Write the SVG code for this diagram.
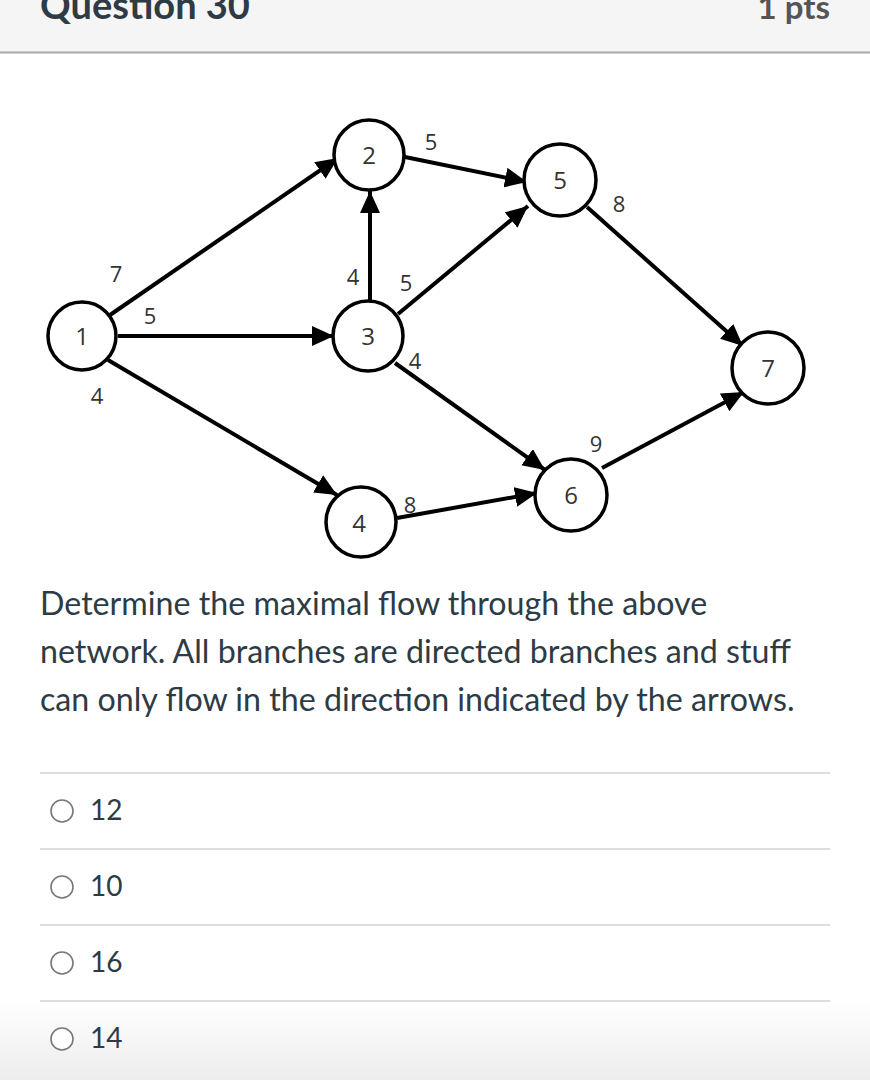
<svg xmlns="http://www.w3.org/2000/svg" width="870" height="1080" viewBox="0 0 870 1080">
<style>
.hdr{font-family:Lato,"Liberation Sans",sans-serif;}
.node circle{fill:#fff;stroke:#000;stroke-width:3.5;}
.node text{font-family:"Open Sans","Liberation Sans",sans-serif;font-size:24px;fill:#333;text-anchor:middle;}
.lbl{font-family:"Open Sans","Liberation Sans",sans-serif;font-size:22px;fill:#333;text-anchor:middle;}
.edges line{stroke:#000;stroke-width:4;marker-end:url(#ah);}
.body{font-family:Lato,"Liberation Sans",sans-serif;font-size:32.2px;fill:#2d3b45;}
.opt{font-family:Lato,"Liberation Sans",sans-serif;font-size:28px;fill:#2d3b45;}
.sep{stroke:#ddd;stroke-width:2;}
.radio{fill:#fff;stroke:#777;stroke-width:1.6;}
</style>
<defs>
<marker id="ah" markerUnits="userSpaceOnUse" markerWidth="24" markerHeight="20" refX="22" refY="10" orient="auto">
<path d="M0,0 L22,10 L0,20 Z" fill="#000"/>
</marker>
<linearGradient id="bot" x1="0" y1="0" x2="0" y2="1">
<stop offset="0" stop-color="#fff"/>
<stop offset="1" stop-color="#ececec"/>
</linearGradient>
</defs>
<rect width="870" height="1080" fill="#fff"/>
<rect x="0" y="1001" width="870" height="79" fill="url(#bot)"/>
<g id="header">
<rect x="0" y="0" width="870" height="52" fill="#f5f5f5"/>
<line x1="0" y1="52.5" x2="870" y2="52.5" stroke="#aaa" stroke-width="2"/>
<text class="hdr" x="40" y="19" font-size="38" fill="#2d3b45" font-weight="bold">Question 30</text>
<text class="hdr" x="830" y="19" font-size="33" fill="#555" font-weight="bold" text-anchor="end">1 pts</text>
</g>
<g id="connectors" class="edges">
<line x1="110" y1="315" x2="338" y2="158"/>
<line x1="118" y1="336" x2="334" y2="336"/>
<line x1="108" y1="360" x2="337" y2="495"/>
<line x1="370" y1="300" x2="370" y2="191"/>
<line x1="398" y1="314" x2="528" y2="206"/>
<line x1="395" y1="363" x2="545" y2="470"/>
<line x1="405" y1="157" x2="527" y2="182"/>
<line x1="397" y1="518" x2="537" y2="493"/>
<line x1="587" y1="207" x2="743" y2="346"/>
<line x1="602" y1="468" x2="744" y2="392"/>
</g>
<g id="edge-labels">
<text class="lbl" x="116" y="282">7</text>
<text class="lbl" x="150" y="324">5</text>
<text class="lbl" x="97" y="404">4</text>
<text class="lbl" x="353" y="285">4</text>
<text class="lbl" x="406" y="291">5</text>
<text class="lbl" x="415" y="369">4</text>
<text class="lbl" x="431" y="150">5</text>
<text class="lbl" x="619" y="212">8</text>
<text class="lbl" x="596" y="452">9</text>
<text class="lbl" x="410" y="513">8</text>
</g>
<g id="n1" class="node"><circle cx="82" cy="336" r="34"/><text x="82" y="345">1</text></g>
<g id="n2" class="node"><circle cx="369" cy="155" r="35"/><text x="369" y="164">2</text></g>
<g id="n3" class="node"><circle cx="368" cy="336" r="35"/><text x="368" y="345">3</text></g>
<g id="n4" class="node"><circle cx="361" cy="522" r="35"/><text x="359" y="532">4</text></g>
<g id="n5" class="node"><circle cx="560" cy="180" r="36"/><text x="560" y="189">5</text></g>
<g id="n6" class="node"><circle cx="571" cy="495" r="36"/><text x="571" y="504">6</text></g>
<g id="n7" class="node"><circle cx="768" cy="368" r="36"/><text x="768" y="377">7</text></g>
<g id="question">
<text class="body" x="40" y="615">Determine the maximal flow through the above</text>
<text class="body" x="40" y="663">network. All branches are directed branches and stuff</text>
<text class="body" x="40" y="711">can only flow in the direction indicated by the arrows.</text>
</g>
<g id="options">
<line class="sep" x1="40" y1="773" x2="830" y2="773"/>
<line class="sep" x1="40" y1="849" x2="830" y2="849"/>
<line class="sep" x1="40" y1="925" x2="830" y2="925"/>
<line class="sep" x1="40" y1="1001" x2="830" y2="1001"/>
<circle class="radio" cx="62" cy="811" r="11"/>
<text class="opt" x="90" y="820">12</text>
<circle class="radio" cx="62" cy="887" r="11"/>
<text class="opt" x="90" y="896">10</text>
<circle class="radio" cx="62" cy="963" r="11"/>
<text class="opt" x="90" y="972">16</text>
<circle class="radio" cx="62" cy="1039" r="11"/>
<text class="opt" x="90" y="1048">14</text>
</g>
</svg>
